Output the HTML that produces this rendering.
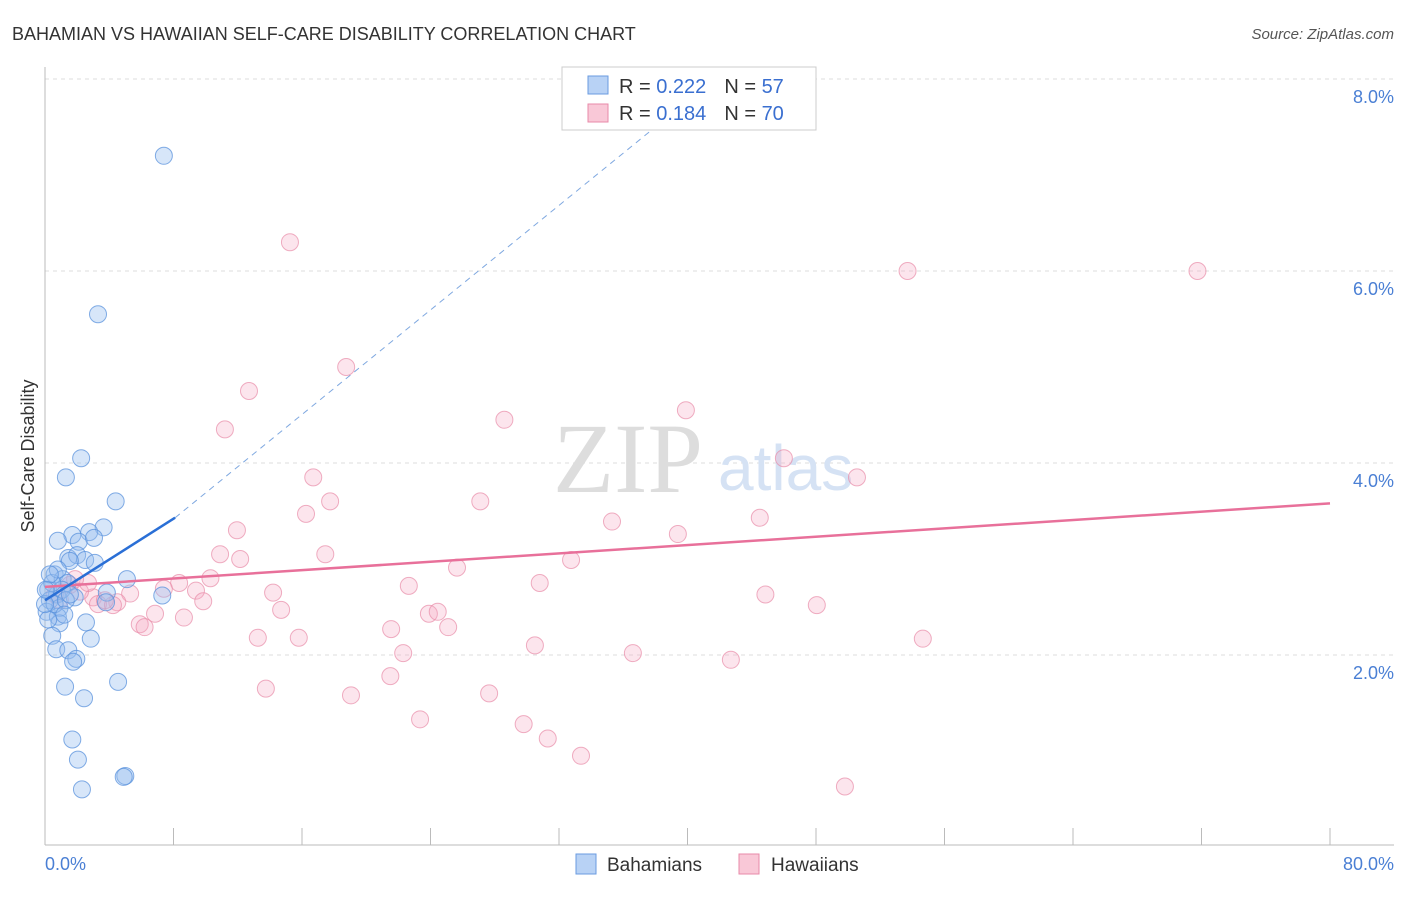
<!DOCTYPE html>
<html><head><meta charset="utf-8"><style>
body{margin:0;background:#fff;font-family:"Liberation Sans",sans-serif;}
svg text{font-family:"Liberation Sans",sans-serif;}
</style></head><body>
<svg width="1406" height="892" viewBox="0 0 1406 892">
<text x="12" y="40" font-size="18" fill="#333">BAHAMIAN VS HAWAIIAN SELF-CARE DISABILITY CORRELATION CHART</text>
<text x="1394" y="39" font-size="15" fill="#555" font-style="italic" text-anchor="end">Source: ZipAtlas.com</text>
<g id="grid"></g>
<g id="axes"></g>
<text x="553" y="492" font-size="100" fill="#ddd" style="font-family:'Liberation Serif',serif">ZIP</text>
<text x="718" y="490" font-size="64" fill="#d5e2f4">atlas</text>
<g id="pts"></g>
<g id="trend"></g>
<text transform="translate(34,456) rotate(-90)" font-size="18" fill="#333" text-anchor="middle">Self-Care Disability</text>
<text x="45" y="870" font-size="18" fill="#4a7fd4">0.0%</text>
<text x="1394" y="870" font-size="18" fill="#4a7fd4" text-anchor="end">80.0%</text>
<g>
<rect x="562" y="67" width="254" height="63" fill="#fff" stroke="#ccc"/>
<rect x="588" y="76" width="20" height="18" fill="#b8d2f5" stroke="#6a9be0"/>
<rect x="588" y="104" width="20" height="18" fill="#f9c8d7" stroke="#e88aa8"/>
<text x="619" y="93" font-size="20" fill="#333">R = <tspan fill="#3a6fd0">0.222</tspan><tspan dx="18">N = </tspan><tspan fill="#3a6fd0">57</tspan></text>
<text x="619" y="120" font-size="20" fill="#333">R = <tspan fill="#3a6fd0">0.184</tspan><tspan dx="18">N = </tspan><tspan fill="#3a6fd0">70</tspan></text>
</g>
<g>
<rect x="576" y="854" width="20" height="20" fill="#b8d2f5" stroke="#6a9be0"/>
<text x="607" y="871" font-size="19" fill="#333">Bahamians</text>
<rect x="739" y="854" width="20" height="20" fill="#f9c8d7" stroke="#e88aa8"/>
<text x="771" y="871" font-size="19" fill="#333">Hawaiians</text>
</g>
</svg>
<script>
const yTicks=[2,4,6,8];
const yTickLabels=["2.0%","4.0%","6.0%","8.0%"];
const xTicks=[0,8,16,24,32,40,48,56,64,72,80];
const bahX=[7.4,3.3,2.25,1.3,4.4,3.65,1.7,2.75,0.8,2.1,3.05,1.45,2.0,2.5,3.1,1.55,0.6,1.1,5.1,0.2,1.4,0.75,1.85,3.85,7.3,3.8,0.3,0.9,0.1,0.8,2.55,0.9,0.45,2.85,0.7,1.45,1.95,1.75,4.55,1.25,2.43,1.7,2.05,5.0,4.9,2.3,0.2,0.6,1.05,0,0.45,1.3,0.8,1.55,0.3,1.2,0.05];
const bahY=[7.2,5.55,4.05,3.85,3.6,3.33,3.25,3.28,3.19,3.18,3.22,3.01,3.04,2.99,2.96,2.98,2.84,2.79,2.79,2.68,2.75,2.63,2.6,2.65,2.62,2.55,2.57,2.49,2.45,2.4,2.34,2.33,2.2,2.17,2.06,2.05,1.96,1.93,1.72,1.67,1.55,1.12,0.91,0.74,0.73,0.6,2.37,2.53,2.68,2.53,2.75,2.57,2.89,2.63,2.84,2.42,2.68];
const hawX=[15.25,53.7,71.75,18.75,12.7,28.6,39.9,11.2,46.0,16.7,50.55,17.75,27.1,16.25,35.3,44.5,11.95,39.4,10.9,17.45,12.15,32.75,25.65,10.3,30.8,22.65,8.35,7.4,9.4,14.2,44.85,5.3,3.0,4.5,9.85,3.3,4.23,14.7,48.05,23.9,24.45,6.85,8.65,5.9,6.2,25.1,21.55,13.25,15.8,54.65,30.5,22.3,36.6,42.7,21.5,13.75,19.05,27.65,23.35,29.8,31.3,33.37,49.8,1.55,2.18,0.93,2.68,0.62,1.87,3.73];
const hawY=[6.3,6.0,6.0,5.0,4.75,4.45,4.55,4.35,4.05,3.85,3.85,3.6,3.6,3.47,3.39,3.43,3.3,3.26,3.05,3.05,3.0,2.99,2.91,2.8,2.75,2.72,2.75,2.69,2.67,2.65,2.63,2.64,2.6,2.55,2.56,2.53,2.52,2.47,2.52,2.43,2.45,2.43,2.39,2.32,2.29,2.29,2.27,2.18,2.18,2.17,2.1,2.02,2.02,1.95,1.78,1.65,1.58,1.6,1.33,1.28,1.13,0.95,0.63,2.73,2.66,2.57,2.75,2.63,2.79,2.57];
const bahTrend=[[0,2.57],[8.1,3.43]];
const bahDash=[[8.1,3.43],[38,7.5]];
const hawTrend=[[0,2.71],[80,3.58]];
const X0=45,X1=1330,Y0=847,PX=96;
const sx=v=>X0+(X1-X0)*v/80;
const sy=v=>Y0-v*PX;
const NS="http://www.w3.org/2000/svg";
function mk(t,a,p){const e=document.createElementNS(NS,t);for(const k in a)e.setAttribute(k,a[k]);p.appendChild(e);return e;}
const grid=document.getElementById('grid');
yTicks.forEach((v,i)=>{
 const l=mk('line',{x1:45,x2:1394,y1:sy(v),y2:sy(v),stroke:'#ddd','stroke-dasharray':'4,4'},grid);
 
 
 const t=mk('text',{x:1394,y:sy(v)+24,'font-size':18,fill:'#4a7fd4','text-anchor':'end'},grid);
 t.textContent=yTickLabels[i];
 
 
});
const axes=document.getElementById('axes');
const ax=mk('line',{x1:45,x2:1394,y1:845,y2:845,stroke:'#bbb'},axes);


const ay=mk('line',{x1:45,x2:45,y1:67,y2:845,stroke:'#bbb'},axes);


xTicks.forEach(v=>{
 const t=mk('line',{x1:sx(v),x2:sx(v),y1:828,y2:845,stroke:'#bbb'},axes);
 
 
});
const pts=document.getElementById('pts');
hawX.forEach((v,i)=>{
 const c=mk('circle',{cx:sx(v),cy:sy(hawY[i]),r:8.5,fill:'rgba(245,170,195,0.3)',stroke:'rgba(232,140,168,0.7)','stroke-width':1},pts);
 
 
});
bahX.forEach((v,i)=>{
 const c=mk('circle',{cx:sx(v),cy:sy(bahY[i]),r:8.5,fill:'rgba(150,188,238,0.38)',stroke:'rgba(90,145,220,0.75)','stroke-width':1},pts);
 
 
});
const tr=document.getElementById('trend');
const l1=mk('line',{x1:sx(hawTrend[0][0]),y1:sy(hawTrend[0][1]),x2:sx(hawTrend[1][0]),y2:sy(hawTrend[1][1]),stroke:'#e8709a','stroke-width':2.5},tr);


const l2=mk('line',{x1:sx(bahDash[0][0]),y1:sy(bahDash[0][1]),x2:sx(bahDash[1][0]),y2:sy(bahDash[1][1]),stroke:'#7fa8e0','stroke-width':1,'stroke-dasharray':'6,5'},tr);


const l3=mk('line',{x1:sx(bahTrend[0][0]),y1:sy(bahTrend[0][1]),x2:sx(bahTrend[1][0]),y2:sy(bahTrend[1][1]),stroke:'#2a6fd6','stroke-width':2.5},tr);


</script>
</body></html>
